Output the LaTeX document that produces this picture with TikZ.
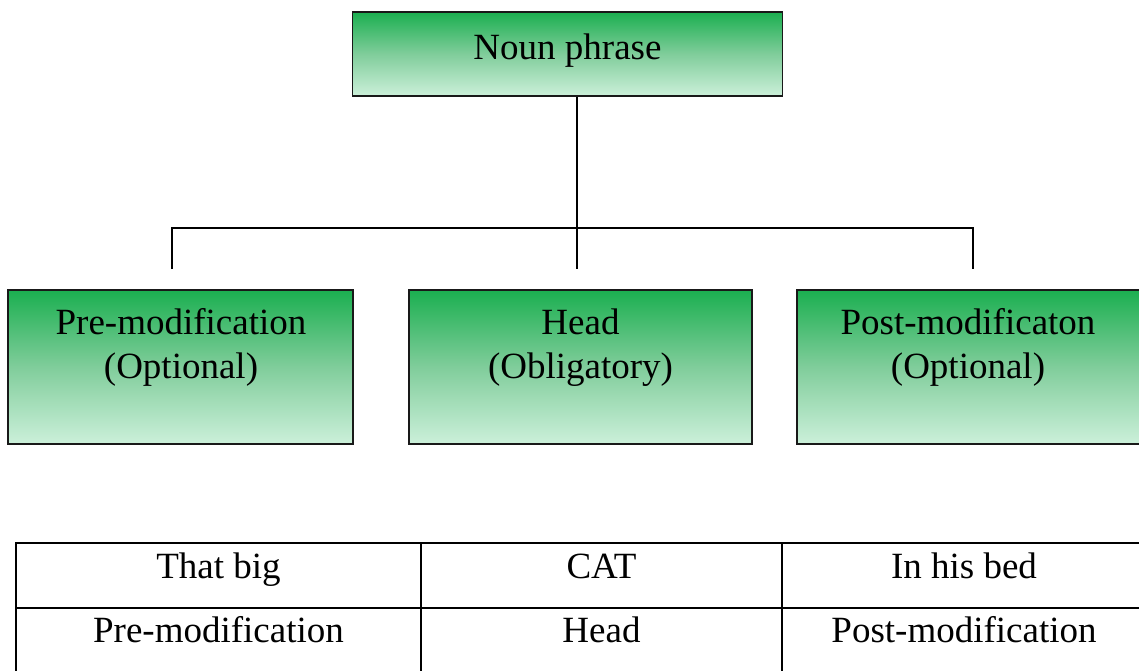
\documentclass[tikz,border=0pt]{standalone}
\usepackage{fontspec}
\setmainfont{Liberation Serif}
\begin{document}
\begin{tikzpicture}[x=1pt,y=-1pt,
  lbl/.style={font=\fontsize{37}{44}\selectfont, anchor=base, inner sep=0pt},
  conn/.style={line width=1.2pt, black},
  grid/.style={line width=1.7pt, black}]
\definecolor{topg}{RGB}{27,175,80}
\definecolor{botg}{RGB}{204,240,218}
\definecolor{midg}{RGB}{128,205,155}
\tikzset{gbox/.style={draw=black!90, line width=1.3pt, rectangle, inner sep=0pt,
    top color=topg, bottom color=botg, middle color=midg}}
\useasboundingbox (0,0) rectangle (1139,671);
\clip (0,0) rectangle (1139,671);
% boxes
\node[gbox, minimum width=430pt, minimum height=84pt] (np) at (567.5,54) {};
\node[gbox, minimum width=345pt, minimum height=154pt] (pre) at (180.5,367) {};
\node[gbox, minimum width=343pt, minimum height=154pt] (head) at (580.5,367) {};
\node[gbox, minimum width=348pt, minimum height=154pt] (post) at (971,367) {};
% texts
\node[lbl] (npt) at (567.5,60) {Noun phrase};
\node[lbl] (pret1) at (181,334) {Pre-modification};
\node[lbl] (pret2) at (181,378) {(Optional)};
\node[lbl] (headt1) at (580.5,334) {Head};
\node[lbl] (headt2) at (580.5,378) {(Obligatory)};
\node[lbl] (postt1) at (968,334) {Post-modificaton};
\node[lbl] (postt2) at (968,378) {(Optional)};
% connectors
\coordinate (bar) at (577,228);
\coordinate (cl) at (172,228);
\coordinate (cr) at (973,228);
\coordinate (el) at (172,269);
\coordinate (em) at (577,269);
\coordinate (er) at (973,269);
\draw[conn] (np.south -| bar) -- (em);
\draw[conn] (el) -- (cl) -- (cr) -- (er);
% table
\coordinate (t1) at (16,543);
\coordinate (t2) at (1146,543);
\coordinate (r1) at (16,608);
\coordinate (r2) at (1146,608);
\coordinate (b1) at (16,680);
\coordinate (c1t) at (421,543);
\coordinate (c1b) at (421,680);
\coordinate (c2t) at (782,543);
\coordinate (c2b) at (782,680);
\draw[grid] (b1) -- (t1) -- (t2);
\draw[grid] (r1) -- (r2);
\draw[grid] (c1t) -- (c1b);
\draw[grid] (c2t) -- (c2b);
\node[lbl] (a1) at (218.5,578) {That big};
\node[lbl] (a2) at (601.5,578) {CAT};
\node[lbl] (a3) at (964,578) {In his bed};
\node[lbl] (b1t) at (218.5,642) {Pre-modification};
\node[lbl] (b2t) at (601.5,642) {Head};
\node[lbl] (b3t) at (964,642) {Post-modification};
\end{tikzpicture}
\end{document}
